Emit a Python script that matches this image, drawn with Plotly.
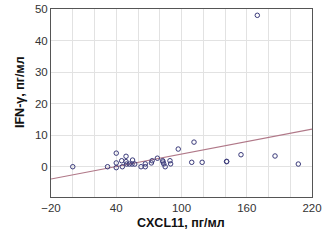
import numpy as np
import plotly.graph_objects as go

# Data points (CXCL11, IFN-gamma)
cxcl11 = [0, 32, 40, 40, 40, 45, 45.6, 49, 49, 49.6, 52, 54.5, 57, 55, 62.8, 66.7, 66.7,
          72.3, 73, 77.8, 82.7, 83, 83.7, 85, 89.4, 90, 97, 109.4, 111.5, 119, 141.5, 141.5,
          154.7, 169.7, 186, 207.4]
ifng = [0, 0, 4.3, 1.2, -0.3, 1.9, 0, 3.3, 1.6, 0.85, 0.85, 0.85, 0.85, 2.1, 0, 0.9, 0,
        1.2, 1.9, 2.7, 1.9, 1.5, 0.9, 0, 1.9, 0.9, 5.6, 1.4, 7.8, 1.4, 1.6, 1.7,
        3.8, 48, 3.4, 0.85]

# Linear fit coefficients
fit_slope = 0.0658
fit_intercept = -2.58
fit_x = [-20, 220]

x_ticks = [-20, 40, 100, 160, 220]
y_ticks = [0, 10, 20, 30, 40, 50]

x_title = "CXCL11, пг/мл"
y_title = "IFN-γ, пг/мл"

fig = go.Figure()
fx = np.array(fit_x, dtype=float)
fig.add_trace(go.Scatter(x=fx, y=fit_slope * fx + fit_intercept, mode="lines",
                         line=dict(color="#b07888", width=1.2), hoverinfo="skip"))
fig.add_trace(go.Scatter(x=cxcl11, y=ifng, mode="markers",
                         marker=dict(symbol="circle-open", size=4.5,
                                     color="#3a3a7a", line=dict(width=1, color="#3a3a7a"))))

axis_common = dict(showline=True, linecolor="#555555", linewidth=1, mirror=True,
                   gridcolor="#e2e2e2", gridwidth=1, zeroline=False, ticks="",
                   automargin=False,
                   tickfont=dict(family="Liberation Sans, Arial", size=11.5, color="#333333"))

fig.update_xaxes(range=[-20, 220], tickvals=x_ticks,
                 minor=dict(dtick=20, tick0=-20, showgrid=True, gridcolor="#e2e2e2"),
                 **axis_common)
fig.update_yaxes(range=[-9.6, 50], tickvals=y_ticks, **axis_common)

title_font = dict(family="Liberation Sans, Arial", size=12.5, color="#111111")
fig.add_annotation(text="<b>" + x_title + "</b>", xref="paper", yref="paper",
                   x=(181 - 51) / 261, y=-(223 - 197) / 188, showarrow=False,
                   xanchor="center", yanchor="middle", font=title_font)
fig.add_annotation(text="<b>" + y_title + "</b>", xref="paper", yref="paper",
                   x=-(51 - 20) / 261, y=(197 - 92) / 188, showarrow=False,
                   xanchor="center", yanchor="middle", textangle=-90, font=title_font)

fig.update_layout(width=335, height=244, showlegend=False,
                  margin=dict(l=51, r=23, t=9, b=47),
                  paper_bgcolor="white", plot_bgcolor="white")

fig.write_html("out.html", config={"displayModeBar": False},
               post_script="document.body.style.margin='0';")
